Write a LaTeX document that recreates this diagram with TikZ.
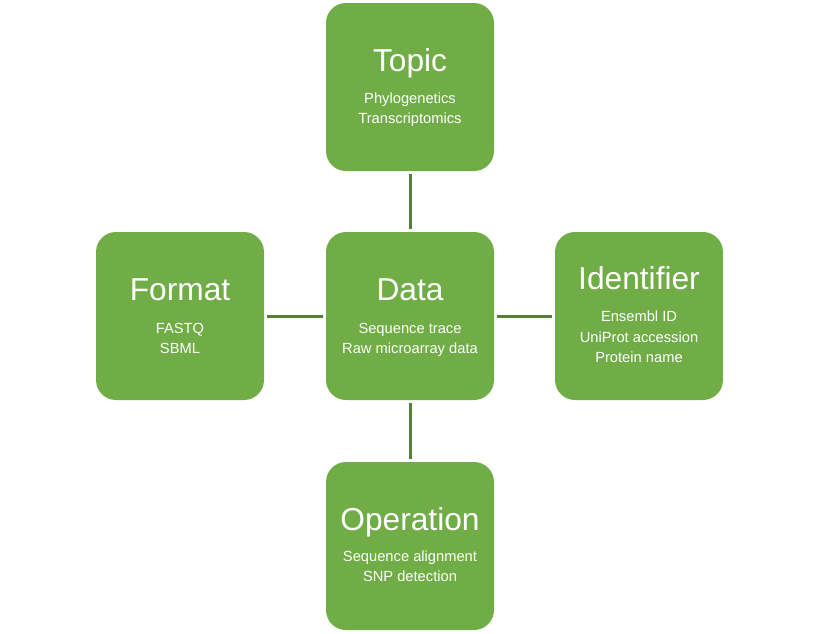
\documentclass[tikz,border=0pt]{standalone}
\usepackage{fontspec}
\setmainfont{Liberation Sans}
\definecolor{boxgreen}{HTML}{70AD47}
\definecolor{linegreen}{HTML}{548235}
\begin{document}
\begin{tikzpicture}[x=1pt,y=-1pt,
  gbox/.style={fill=boxgreen,draw=none,rounded corners=20pt,minimum width=168pt,minimum height=168pt,inner sep=0pt},
  title/.style={text=white,anchor=base,inner sep=0pt,font=\fontsize{31.7}{36}\selectfont},
  sub/.style={text=white,anchor=base,inner sep=0pt,font=\fontsize{14.7}{18}\selectfont},
  link/.style={draw=linegreen,line width=3pt,shorten <=3pt,shorten >=3pt}]
\useasboundingbox (0,0) rectangle (820,633);
\node[gbox] (topic) at (410,87) {};
\node[gbox] (data) at (410,316) {};
\node[gbox] (format) at (180,316) {};
\node[gbox] (ident) at (639,316) {};
\node[gbox] (oper) at (410,546) {};
% Topic
\node[title] (t1) at ([yshift=15.5pt]topic.center) {Topic};
\node[sub] (t2) at ([yshift=-16.5pt]topic.center) {Phylogenetics};
\node[sub] (t3) at ([yshift=-36.5pt]topic.center) {Transcriptomics};
% Data
\node[title] (d1) at ([yshift=15.5pt]data.center) {Data};
\node[sub] (d2) at ([yshift=-17pt]data.center) {Sequence trace};
\node[sub] (d3) at ([yshift=-37pt]data.center) {Raw microarray data};
% Format
\node[title] (f1) at ([yshift=15.5pt]format.center) {Format};
\node[sub] (f2) at ([yshift=-17pt]format.center) {FASTQ};
\node[sub] (f3) at ([yshift=-37pt]format.center) {SBML};
% Identifier
\node[title] (i1) at ([yshift=27pt]ident.center) {Identifier};
\node[sub] (i2) at ([yshift=-5.5pt]ident.center) {Ensembl ID};
\node[sub] (i3) at ([yshift=-26pt]ident.center) {UniProt accession};
\node[sub] (i4) at ([yshift=-46.5pt]ident.center) {Protein name};
% Operation
\node[title] (o1) at ([yshift=16pt]oper.center) {Operation};
\node[sub] (o2) at ([yshift=-15.5pt]oper.center) {Sequence alignment};
\node[sub] (o3) at ([yshift=-35.5pt]oper.center) {SNP detection};
% links
\draw[link] (topic) -- (data);
\draw[link] (format) -- (data);
\draw[link] (data) -- (ident);
\draw[link] (data) -- (oper);
\end{tikzpicture}
\end{document}
